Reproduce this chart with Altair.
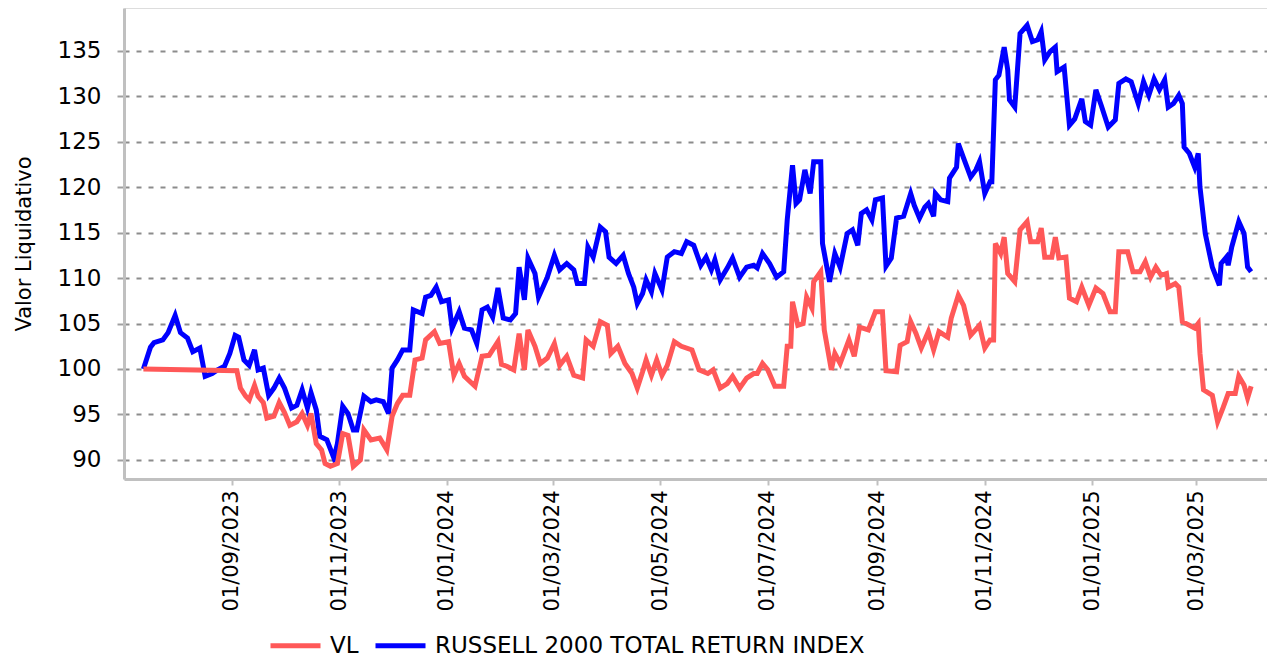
import altair as alt
import pandas as pd

VL_NAME = "VL"
IDX_NAME = "RUSSELL 2000 TOTAL RETURN INDEX"

idx_dates = [
    "2023-07-13", "2023-07-17", "2023-07-19", "2023-07-24", "2023-07-27", "2023-07-31",
    "2023-08-03", "2023-08-07", "2023-08-10", "2023-08-14", "2023-08-17", "2023-08-21",
    "2023-08-24", "2023-08-28", "2023-08-31", "2023-09-03", "2023-09-05", "2023-09-08",
    "2023-09-11", "2023-09-14", "2023-09-16", "2023-09-19", "2023-09-22", "2023-09-25",
    "2023-09-28", "2023-10-01", "2023-10-05", "2023-10-08", "2023-10-11", "2023-10-14",
    "2023-10-16", "2023-10-19", "2023-10-21", "2023-10-25", "2023-10-29", "2023-10-31",
    "2023-11-03", "2023-11-06", "2023-11-09", "2023-11-11", "2023-11-15", "2023-11-19",
    "2023-11-22", "2023-11-26", "2023-11-29", "2023-12-01", "2023-12-04", "2023-12-07",
    "2023-12-11", "2023-12-13", "2023-12-18", "2023-12-20", "2023-12-23", "2023-12-26",
    "2023-12-29", "2024-01-02", "2024-01-04", "2024-01-08", "2024-01-11", "2024-01-15",
    "2024-01-18", "2024-01-21", "2024-01-24", "2024-01-27", "2024-01-30", "2024-02-02",
    "2024-02-06", "2024-02-09", "2024-02-11", "2024-02-14", "2024-02-16", "2024-02-20",
    "2024-02-22", "2024-02-25", "2024-02-27", "2024-03-02", "2024-03-05", "2024-03-09",
    "2024-03-13", "2024-03-15", "2024-03-19", "2024-03-21", "2024-03-24", "2024-03-28",
    "2024-03-31", "2024-04-02", "2024-04-06", "2024-04-10", "2024-04-13", "2024-04-16",
    "2024-04-18", "2024-04-21", "2024-04-23", "2024-04-26", "2024-04-28", "2024-05-02",
    "2024-05-05", "2024-05-09", "2024-05-13", "2024-05-16", "2024-05-20", "2024-05-24",
    "2024-05-27", "2024-05-30", "2024-06-01", "2024-06-04", "2024-06-08", "2024-06-11",
    "2024-06-15", "2024-06-19", "2024-06-23", "2024-06-25", "2024-06-28", "2024-07-02",
    "2024-07-06", "2024-07-10", "2024-07-12", "2024-07-15", "2024-07-17", "2024-07-19",
    "2024-07-22", "2024-07-25", "2024-07-27", "2024-07-31", "2024-08-01", "2024-08-05",
    "2024-08-08", "2024-08-11", "2024-08-15", "2024-08-18", "2024-08-21", "2024-08-23",
    "2024-08-26", "2024-08-29", "2024-08-31", "2024-09-04", "2024-09-06", "2024-09-09",
    "2024-09-12", "2024-09-16", "2024-09-20", "2024-09-22", "2024-09-25", "2024-09-28",
    "2024-09-30", "2024-10-03", "2024-10-04", "2024-10-07", "2024-10-11", "2024-10-12",
    "2024-10-16", "2024-10-17", "2024-10-20", "2024-10-24", "2024-10-27", "2024-10-29",
    "2024-11-01", "2024-11-04", "2024-11-05", "2024-11-07", "2024-11-09", "2024-11-12",
    "2024-11-14", "2024-11-15", "2024-11-18", "2024-11-21", "2024-11-25", "2024-11-28",
    "2024-12-01", "2024-12-03", "2024-12-05", "2024-12-08", "2024-12-11", "2024-12-12",
    "2024-12-16", "2024-12-19", "2024-12-22", "2024-12-26", "2024-12-28", "2024-12-31",
    "2025-01-03", "2025-01-06", "2025-01-10", "2025-01-14", "2025-01-16", "2025-01-20",
    "2025-01-23", "2025-01-27", "2025-01-30", "2025-02-02", "2025-02-05", "2025-02-08",
    "2025-02-11", "2025-02-13", "2025-02-16", "2025-02-19", "2025-02-21", "2025-02-22",
    "2025-02-25", "2025-02-28", "2025-03-02", "2025-03-03", "2025-03-06", "2025-03-10",
    "2025-03-14", "2025-03-15", "2025-03-18", "2025-03-19", "2025-03-21", "2025-03-25",
    "2025-03-28", "2025-03-30", "2025-04-01",
]
idx_values = [
    100.0, 102.4, 102.9, 103.2, 104.0, 105.9,
    104.0, 103.4, 101.9, 102.3, 99.2, 99.5,
    99.9, 100.3, 101.7, 103.7, 103.5, 101.0,
    100.4, 102.1, 99.9, 100.1, 97.1, 97.9,
    99.0, 97.9, 95.7, 96.0, 97.7, 95.7,
    97.4, 95.5, 92.6, 92.2, 90.2, 91.8,
    95.9, 95.1, 93.3, 93.3, 97.0, 96.4,
    96.6, 96.4, 95.1, 100.1, 101.0, 102.1,
    102.1, 106.5, 106.1, 107.9, 108.1, 109.0,
    107.4, 107.6, 104.5, 106.3, 104.5, 104.3,
    102.8, 106.5, 106.8, 105.7, 108.9, 105.6,
    105.4, 106.1, 111.2, 107.6, 112.2, 110.5,
    107.9, 109.2, 110.1, 112.5, 110.9, 111.6,
    110.9, 109.4, 109.4, 113.4, 112.3, 115.6,
    115.1, 112.3, 111.6, 112.5, 110.5, 109.0,
    107.2, 108.3, 109.8, 108.5, 110.5, 108.7,
    112.3, 112.9, 112.7, 114.0, 113.6, 111.4,
    112.3, 110.9, 112.0, 109.8, 111.1, 112.2,
    110.1, 111.2, 111.4, 111.1, 112.7, 111.6,
    110.1, 110.7, 116.4, 122.4, 118.2, 118.6,
    121.9, 119.3, 122.8, 122.8, 113.8, 109.6,
    112.7, 111.2, 114.9, 115.3, 113.6, 117.1,
    117.5, 116.4, 118.6, 118.8, 111.3, 112.2,
    116.6, 116.8, 119.3, 118.0, 116.6, 117.8,
    118.2, 116.8, 119.3, 118.6, 118.4, 121.0,
    122.2, 124.8, 123.2, 121.1, 121.9, 122.8,
    119.3, 120.6, 120.6, 131.8, 132.3, 135.4,
    132.9, 129.6, 128.8, 136.9, 137.8, 136.0,
    136.2, 137.1, 134.0, 134.9, 135.4, 132.7,
    133.2, 126.8, 127.5, 129.7, 127.2, 126.8,
    130.7, 129.0, 126.6, 127.4, 131.4, 131.9,
    131.6, 129.2, 131.6, 130.1, 131.9, 130.7,
    131.8, 128.8, 129.2, 130.1, 129.2, 124.4,
    123.7, 122.2, 123.7, 120.0, 114.9, 111.2,
    109.2, 111.6, 112.3, 111.4, 113.4, 116.2,
    114.9, 111.2, 110.7,
]

vl_dates = [
    "2023-07-13", "2023-09-04", "2023-09-06", "2023-09-09", "2023-09-11", "2023-09-14",
    "2023-09-16", "2023-09-19", "2023-09-21", "2023-09-25", "2023-09-28", "2023-10-01",
    "2023-10-04", "2023-10-08", "2023-10-11", "2023-10-14", "2023-10-16", "2023-10-19",
    "2023-10-22", "2023-10-24", "2023-10-27", "2023-10-31", "2023-11-03", "2023-11-06",
    "2023-11-09", "2023-11-13", "2023-11-15", "2023-11-19", "2023-11-24", "2023-11-28",
    "2023-12-01", "2023-12-04", "2023-12-07", "2023-12-11", "2023-12-14", "2023-12-18",
    "2023-12-20", "2023-12-25", "2023-12-28", "2024-01-02", "2024-01-05", "2024-01-08",
    "2024-01-11", "2024-01-17", "2024-01-21", "2024-01-25", "2024-01-30", "2024-02-01",
    "2024-02-04", "2024-02-08", "2024-02-11", "2024-02-14", "2024-02-16", "2024-02-20",
    "2024-02-23", "2024-02-27", "2024-03-02", "2024-03-05", "2024-03-09", "2024-03-13",
    "2024-03-18", "2024-03-20", "2024-03-24", "2024-03-28", "2024-04-01", "2024-04-03",
    "2024-04-07", "2024-04-11", "2024-04-15", "2024-04-18", "2024-04-21", "2024-04-23",
    "2024-04-26", "2024-04-29", "2024-05-02", "2024-05-05", "2024-05-09", "2024-05-13",
    "2024-05-19", "2024-05-23", "2024-05-28", "2024-05-31", "2024-06-04", "2024-06-08",
    "2024-06-11", "2024-06-15", "2024-06-19", "2024-06-23", "2024-06-25", "2024-06-28",
    "2024-07-01", "2024-07-05", "2024-07-10", "2024-07-12", "2024-07-14", "2024-07-15",
    "2024-07-18", "2024-07-21", "2024-07-23", "2024-07-26", "2024-07-27", "2024-07-31",
    "2024-08-02", "2024-08-06", "2024-08-08", "2024-08-11", "2024-08-16", "2024-08-19",
    "2024-08-22", "2024-08-27", "2024-08-31", "2024-09-04", "2024-09-06", "2024-09-12",
    "2024-09-14", "2024-09-18", "2024-09-20", "2024-09-23", "2024-09-26", "2024-09-30",
    "2024-10-03", "2024-10-06", "2024-10-11", "2024-10-13", "2024-10-17", "2024-10-20",
    "2024-10-24", "2024-10-29", "2024-11-01", "2024-11-04", "2024-11-06", "2024-11-07",
    "2024-11-10", "2024-11-12", "2024-11-14", "2024-11-18", "2024-11-21", "2024-11-25",
    "2024-11-27", "2024-12-01", "2024-12-03", "2024-12-05", "2024-12-09", "2024-12-11",
    "2024-12-13", "2024-12-17", "2024-12-19", "2024-12-23", "2024-12-26", "2024-12-30",
    "2025-01-03", "2025-01-07", "2025-01-11", "2025-01-14", "2025-01-16", "2025-01-21",
    "2025-01-24", "2025-01-28", "2025-01-31", "2025-02-03", "2025-02-06", "2025-02-09",
    "2025-02-12", "2025-02-13", "2025-02-17", "2025-02-19", "2025-02-21", "2025-02-25",
    "2025-02-28", "2025-03-02", "2025-03-03", "2025-03-05", "2025-03-10", "2025-03-13",
    "2025-03-16", "2025-03-19", "2025-03-23", "2025-03-25", "2025-03-28", "2025-03-30",
    "2025-04-01",
]
vl_values = [
    100.0, 99.8, 97.9, 97.0, 96.6, 98.2,
    97.0, 96.3, 94.6, 94.8, 96.3, 95.2,
    93.8, 94.2, 95.1, 93.8, 95.1, 91.8,
    91.1, 89.6, 89.3, 89.6, 92.9, 92.7,
    89.3, 90.0, 93.3, 92.2, 92.4, 91.1,
    94.8, 96.2, 97.1, 97.1, 101.0, 101.2,
    103.2, 104.1, 102.8, 103.0, 99.3, 100.6,
    99.2, 98.1, 101.4, 101.5, 103.0, 100.5,
    100.3, 99.9, 103.9, 99.9, 104.3, 102.5,
    100.6, 101.2, 102.8, 100.4, 101.4, 99.3,
    99.0, 103.2, 102.5, 105.2, 104.8, 101.7,
    102.5, 100.6, 99.5, 97.9, 99.7, 101.0,
    99.3, 101.0, 99.3, 100.4, 103.0, 102.5,
    102.1, 99.9, 99.5, 99.9, 97.9, 98.4,
    99.2, 97.9, 99.0, 99.5, 99.5, 100.6,
    99.9, 98.1, 98.1, 102.5, 102.5, 107.4,
    104.8, 105.0, 107.9, 106.7, 109.6, 110.7,
    104.3, 99.9, 101.7, 100.6, 103.2, 101.4,
    104.6, 104.3, 106.3, 106.3, 99.8, 99.7,
    102.6, 103.0, 105.2, 103.9, 102.3, 104.1,
    102.1, 104.1, 103.5, 105.6, 108.1, 107.0,
    103.7, 104.8, 102.3, 103.2, 103.2, 113.8,
    112.7, 114.5, 110.5, 109.6, 115.3, 116.2,
    114.0, 114.0, 115.5, 112.3, 112.3, 114.5,
    112.2, 112.3, 107.8, 107.4, 109.0, 107.0,
    108.9, 108.3, 106.3, 106.3, 112.9, 112.9,
    110.7, 110.7, 111.8, 110.1, 111.2, 110.3,
    110.5, 109.0, 109.4, 109.0, 105.2, 104.8,
    104.5, 105.0, 101.7, 97.7, 97.1, 94.2,
    95.7, 97.3, 97.3, 99.2, 98.2, 96.8,
    98.1,
]

x_domain = ["2023-07-02", "2025-04-10"]
x_ticks = [
    "2023-09-01", "2023-11-01", "2024-01-01", "2024-03-01", "2024-05-01",
    "2024-07-01", "2024-09-01", "2024-11-01", "2025-01-01", "2025-03-01",
]
y_domain = [87.9, 139.7]
y_ticks = [90, 95, 100, 105, 110, 115, 120, 125, 130, 135]

series_names = [VL_NAME, IDX_NAME]
series_colors = ["#ff5858", "#0000ff"]


def to_dt(s):
    y, m, d = (int(p) for p in s.split("-"))
    return alt.DateTime(year=y, month=m, date=d)


df_idx = pd.DataFrame({"fecha": idx_dates, "valor": idx_values, "serie": IDX_NAME})
df_vl = pd.DataFrame({"fecha": vl_dates, "valor": vl_values, "serie": VL_NAME})

FONT = "DejaVu Sans"

x_enc = alt.X(
    "fecha:T",
    scale=alt.Scale(domain=[to_dt(s) for s in x_domain]),
    axis=alt.Axis(
        values=[to_dt(s) for s in x_ticks],
        format="%d/%m/%Y",
        labelAngle=-90,
        title=None,
        grid=False,
        labelFont=FONT,
        labelFontSize=21,
        labelColor="#000000",
        labelPadding=5,
        tickSize=6,
        tickColor="#c0c0c0",
        tickWidth=2,
        domainColor="#c0c0c0",
        domainWidth=3,
        labelOverlap=False,
    ),
)
y_enc = alt.Y(
    "valor:Q",
    scale=alt.Scale(domain=y_domain, nice=False, zero=False),
    axis=alt.Axis(
        values=y_ticks,
        title="Valor Liquidativo",
        titleFont=FONT,
        titleFontSize=21,
        titleFontWeight="normal",
        titleColor="#000000",
        titlePadding=23,
        labelFont=FONT,
        labelFontSize=23,
        labelColor="#000000",
        labelPadding=16,
        tickSize=7,
        tickColor="#a0a0a0",
        tickWidth=2,
        domainColor="#c0c0c0",
        domainWidth=3,
        grid=True,
        gridColor="#8c8c8c",
        gridDash=[5, 7],
        gridWidth=2,
    ),
)
color_enc = alt.Color(
    "serie:N",
    scale=alt.Scale(domain=series_names, range=series_colors),
    legend=alt.Legend(
        title=None,
        orient="none",
        legendX=144,
        legendY=610,
        direction="horizontal",
        symbolType="stroke",
        symbolSize=2500,
        symbolStrokeWidth=5,
        labelFont=FONT,
        labelFontSize=23,
        labelColor="#000000",
        labelOffset=7,
        labelLimit=1000,
        columnPadding=6,
        padding=0,
    ),
)

line_idx = alt.Chart(df_idx).mark_line(strokeWidth=5).encode(x=x_enc, y=y_enc, color=color_enc)
line_vl = alt.Chart(df_vl).mark_line(strokeWidth=5).encode(x=x_enc, y=y_enc, color=color_enc)

chart = (
    alt.layer(line_idx, line_vl)
    .properties(
        width=1143,
        height=471,
        autosize=alt.AutoSizeParams(type="none"),
        padding={"left": 116, "top": 0, "right": 0, "bottom": 181},
    )
    .configure_view(stroke="transparent")
    .configure(background="#ffffff")
)

chart.save("out.html", embed_options={"renderer": "svg", "actions": False})
